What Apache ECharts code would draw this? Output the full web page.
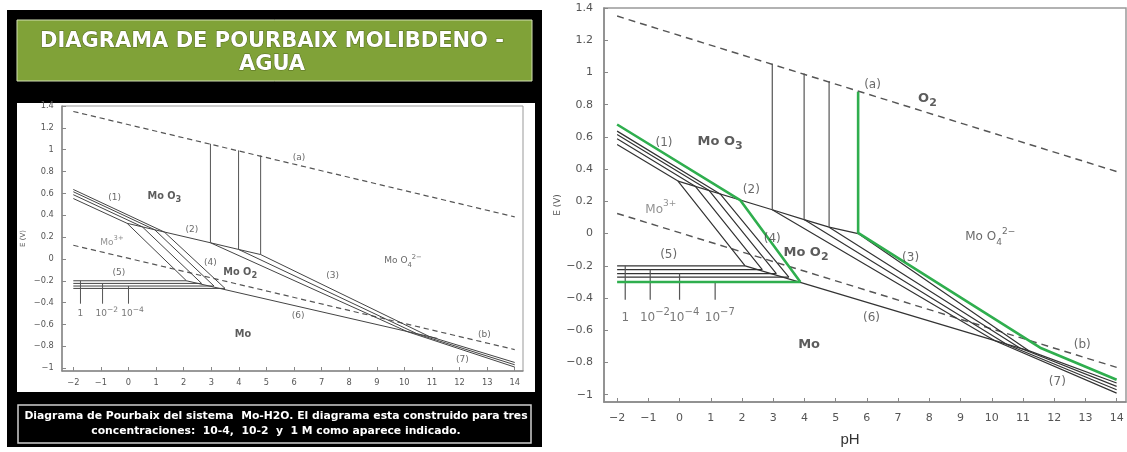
<!DOCTYPE html>
<html>
<head>
<meta charset="utf-8">
<script src="https://cdn.jsdelivr.net/npm/echarts@6/dist/echarts.min.js"></script>
<style>
html,body{margin:0;padding:0;background:#fff}
#c{width:1127px;height:452px}
</style>
</head>
<body>
<div id="c"></div>
<script>
// ---- axis ticks ----
const pHTicks = [-2,-1,0,1,2,3,4,5,6,7,8,9,10,11,12,13,14];
const eTicks = [-1,-0.8,-0.6,-0.4,-0.2,0,0.2,0.4,0.6,0.8,1,1.2,1.4];

// ---- water stability limits (pH, E) ----
const oxygenLine = [[-2,1.35],[14,0.385]];     // (a)
const hydrogenLine = [[-2,0.125],[14,-0.83]];  // (b)

// ---- Mo3+ field: (1) Mo3+/MoO3 then (4) Mo3+/MoO2, one per concentration ----
const mo3Upper = [
  [[-2,0.553],[-0.05,0.326],[2.1,-0.2]],
  [[-2,0.588],[0.5,0.294],[2.65,-0.224]],
  [[-2,0.615],[0.95,0.267],[3.1,-0.248]],
  [[-2,0.636],[1.3,0.246],[3.5,-0.27]]
];
// (5) Mo3+/Mo levels, drawn from pH -2 to the end of the matching line above
const mo3MoLevels = [-0.2,-0.224,-0.248,-0.27];

// (2) MoO3/MoO2
const moo3Moo2 = [[-0.05,0.326],[2.97,0.148],[3.99,0.087],[4.79,0.04],[5.72,0.0]];
// (6) MoO2/Mo
const moo2Mo = [[2.1,-0.2],[11.2,-0.728]];
// (3) MoO2/MoO4 2- then (7) Mo/MoO4 2-
const molybdateLower = [
  [[2.97,0.148],[10.1,-0.665],[14,-0.99]],
  [[3.99,0.087],[10.5,-0.69],[14,-0.969]],
  [[4.79,0.04],[10.9,-0.71],[14,-0.948]],
  [[5.72,0.0],[11.2,-0.728],[14,-0.927]]
];
// MoO3/MoO4 2- verticals: pH, lower E, upper E
const moo3Molybdate = [[2.97,0.148,1.054],[3.99,0.087,0.994],[4.79,0.04,0.947]];

// concentration markers hanging from the (5) levels: pH, top E, exponent
const concMarks = [[-1.74,-0.2,''],[-0.94,-0.224,'−2'],[0.0,-0.248,'−4']];
const concMarkGreen = [1.14,-0.30,'−7'];
const concMarkBottom = -0.41;

// ---- highlighted set ----
const greenUpper = [[-2,0.677],[1.94,0.208],[3.87,-0.30]];
const greenLevel = [[-2,-0.30],[3.87,-0.30]];
const greenMolybdate = [[5.72,0.88],[5.72,0.005],[11.55,-0.708],[14,-0.907]];

// ---- field and line labels (text, pH, E) ----
const regionLabels = [
  ['(1)', -0.5, 0.56],
  ['{b|Mo O}{bs|3}', 1.3, 0.57],
  ['(2)', 2.3, 0.27],
  ['{g|Mo}{gs|3+}', -0.6, 0.15],
  ['(4)', 2.97, -0.03],
  ['{b|Mo O}{bs|2}', 4.05, -0.12],
  ['(3)', 7.4, -0.15],
  ['(a)', 6.18, 0.925],
  ['{t|Mo O}{ts|4}{tp|2−}', 9.95, -0.02],
  ['(5)', -0.35, -0.13],
  ['(6)', 6.15, -0.52],
  ['{b|Mo}', 4.15, -0.69],
  ['(b)', 12.9, -0.69],
  ['(7)', 12.1, -0.92]
];
const oxygenLabel = ['{b|O}{bs|2}', 7.94, 0.84];

const GREEN = '#2fae4e';

function poly(pts, gi, color, width, dash, z) {
  return {
    type: 'line', xAxisIndex: gi, yAxisIndex: gi, data: pts,
    symbol: 'none', silent: true, animation: false, z: z || 2,
    lineStyle: { color: color, width: width, type: dash || 'solid' }
  };
}

function richFor(k) {
  return {
    t: { fontSize: 12*k, color: '#444', lineHeight: 20*k, fontFamily: 'DejaVu Sans' },
    ts: { fontSize: 9*k, color: '#444', verticalAlign: 'bottom', lineHeight: 10*k },
    tp: { fontSize: 9*k, color: '#444', verticalAlign: 'top', lineHeight: 10*k },
    b: { fontSize: 13*k, fontWeight: 'bold', color: '#333', lineHeight: 20*k },
    bs: { fontSize: 11*k, fontWeight: 'bold', color: '#333', verticalAlign: 'bottom', lineHeight: 10*k },
    g: { fontSize: 12*k, color: '#777', lineHeight: 20*k },
    gs: { fontSize: 9*k, color: '#777', verticalAlign: 'top', lineHeight: 10*k },
    n: { fontSize: 12*k, color: '#555', lineHeight: 20*k },
    s: { fontSize: 10*k, color: '#555', verticalAlign: 'top', lineHeight: 10*k }
  };
}

function labelSeries(items, gi, k) {
  return {
    type: 'scatter', xAxisIndex: gi, yAxisIndex: gi, symbolSize: 1,
    itemStyle: { color: 'rgba(0,0,0,0)' }, silent: true, animation: false, z: 5,
    label: {
      show: true, position: 'inside', fontSize: 12*k, color: '#444',
      fontFamily: 'DejaVu Sans', rich: richFor(k),
      formatter: p => p.data.text
    },
    data: items.map(it => ({ value: [it[1], it[2]], text: it[0] }))
  };
}

function concText(exp) {
  return exp ? '{n|10}{s|' + exp + '}' : '{n|1}';
}

function diagramSeries(gi, k, ink, w, withHighlight) {
  const s = [];
  s.push(poly(oxygenLine, gi, '#555', w*1.2, [7*k, 5*k]));
  s.push(poly(hydrogenLine, gi, '#555', w*1.2, [7*k, 5*k]));
  mo3Upper.forEach(p => s.push(poly(p, gi, ink, w)));
  mo3Upper.forEach((p, i) => {
    const end = p[p.length - 1];
    s.push(poly([[-2, mo3MoLevels[i]], [end[0], mo3MoLevels[i]]], gi, ink, w));
  });
  s.push(poly(withHighlight ? moo3Moo2 : moo3Moo2.slice(0, 4), gi, ink, w));
  s.push(poly(moo2Mo, gi, ink, w));
  (withHighlight ? molybdateLower : molybdateLower.slice(0, 3)).forEach(p => s.push(poly(p, gi, ink, w)));
  moo3Molybdate.forEach(v => s.push(poly([[v[0], v[1]], [v[0], v[2]]], gi, '#555', w)));
  const marks = withHighlight ? concMarks.concat([concMarkGreen]) : concMarks;
  marks.forEach(m => s.push(poly([[m[0], m[1]], [m[0], concMarkBottom]], gi, '#555', w)));
  const labels = regionLabels.slice();
  if (withHighlight) labels.push(oxygenLabel);
  const labelE = withHighlight ? -0.52 : -0.5;
  marks.forEach(m => labels.push([concText(m[2]), m[0] + (m[2] ? 0.15 : 0), labelE]));
  s.push(labelSeries(labels, gi, k));
  if (withHighlight) {
    s.push(poly(greenUpper, gi, GREEN, 2.6, null, 3));
    s.push(poly(greenLevel, gi, GREEN, 2.6, null, 3));
    s.push(poly(greenMolybdate, gi, GREEN, 2.6, null, 3));
  }
  return s;
}

const fmt = v => {
  const r = Math.round(v * 10) / 10;
  return (r < 0 ? '−' : '') + String(Math.abs(r));
};

function xAxisFor(gi, min, max, k, nameOpts) {
  return Object.assign({
    type: 'value', gridIndex: gi, min: min, max: max,
    axisLine: { show: true, onZero: false, lineStyle: { color: '#888', width: 1.5 } },
    axisTick: { show: true, inside: true, length: 4, customValues: pHTicks, lineStyle: { color: '#888' } },
    axisLabel: { customValues: pHTicks, formatter: fmt, fontSize: 11*k, color: '#555', margin: 11*k, fontFamily: 'DejaVu Sans' },
    splitLine: { show: false }
  }, nameOpts || {});
}
function yAxisFor(gi, min, max, k, gap) {
  return {
    type: 'value', gridIndex: gi, min: min, max: max,
    name: 'E (V)', nameLocation: 'middle', nameGap: gap, nameRotate: 90,
    nameTextStyle: { fontSize: 8*k + 1, color: '#555', fontFamily: 'DejaVu Sans' },
    axisLine: { show: true, onZero: false, lineStyle: { color: '#888', width: 1.5 } },
    axisTick: { show: true, inside: true, length: 4, customValues: eTicks, lineStyle: { color: '#888' } },
    axisLabel: { customValues: eTicks, formatter: fmt, fontSize: 11*k, color: '#555', margin: 11*k, fontFamily: 'DejaVu Sans' },
    splitLine: { show: false }
  };
}

const chart = echarts.init(document.getElementById('c'), null, { renderer: 'canvas' });
chart.setOption({
  backgroundColor: '#fff',
  animation: false,
  grid: [
    { left: 62, top: 106, width: 461, height: 265, show: true, borderColor: '#999', borderWidth: 1, backgroundColor: 'rgba(0,0,0,0)' },
    { left: 604, top: 8, width: 522, height: 394, show: true, borderColor: '#999', borderWidth: 1.5, backgroundColor: 'rgba(0,0,0,0)' }
  ],
  xAxis: [
    xAxisFor(0, -2.41, 14.3, 0.75),
    xAxisFor(1, -2.42, 14.3, 1, {
      name: 'pH', nameLocation: 'middle', nameGap: 30,
      nameTextStyle: { fontSize: 15, color: '#333', fontFamily: 'Liberation Sans', padding: [0, 30, 0, 0] }
    })
  ],
  yAxis: [
    yAxisFor(0, -1.026, 1.4, 0.75, 35),
    yAxisFor(1, -1.045, 1.4, 1, 38)
  ],
  graphic: { elements: [
    { type: 'rect', z: -10, shape: { x: 7, y: 10, width: 535, height: 437 }, style: { fill: '#000' } },
    { type: 'rect', z: -9, shape: { x: 17, y: 20, width: 515, height: 61 }, style: { fill: '#80a238', stroke: '#d3e0b4', lineWidth: 1 } },
    { type: 'text', z: -8, x: 272, y: 53,
      style: { text: 'DIAGRAMA DE POURBAIX MOLIBDENO -\nAGUA', fill: '#fff', stroke: 'rgba(50,60,20,0.55)', lineWidth: 1,
        font: 'bold 21px "DejaVu Sans"', lineHeight: 23,
        align: 'center', verticalAlign: 'middle', textAlign: 'center', textVerticalAlign: 'middle' } },
    { type: 'rect', z: -9, shape: { x: 17, y: 103, width: 518, height: 289 }, style: { fill: '#fff' } },
    { type: 'rect', z: -9, shape: { x: 18, y: 405, width: 513, height: 38 }, style: { fill: '#000', stroke: '#cfcfcf', lineWidth: 1.5 } },
    { type: 'text', z: -8, x: 276, y: 424,
      style: { text: 'Diagrama de Pourbaix del sistema  Mo-H2O. El diagrama esta construido para tres\nconcentraciones:  10-4,  10-2  y  1 M como aparece indicado.',
        fill: '#fff', font: 'bold 10.8px "DejaVu Sans"', lineHeight: 15,
        align: 'center', verticalAlign: 'middle', textAlign: 'center', textVerticalAlign: 'middle' } }
  ] },
  series: diagramSeries(0, 0.75, '#444', 1, false).concat(diagramSeries(1, 1, '#333', 1.2, true))
});
</script>
</body>
</html>
